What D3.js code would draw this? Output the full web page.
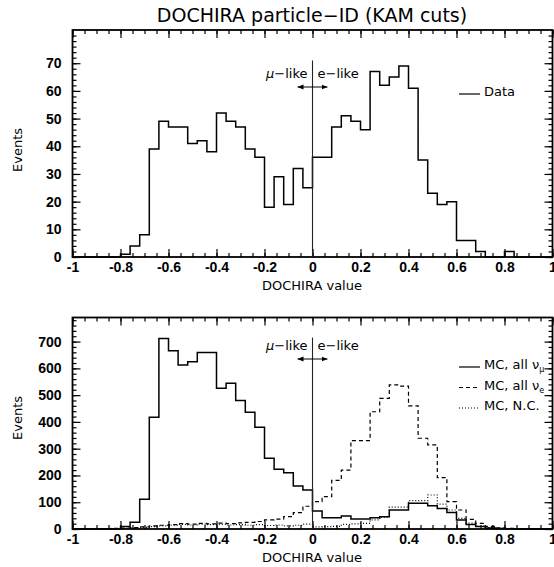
<!DOCTYPE html>
<html>
<head>
<meta charset="utf-8">
<script src="https://cdn.jsdelivr.net/npm/d3@7"></script>
<style>
  body { margin: 0; background: #fff; }
  svg { display: block; }
  text { fill: #000; }
</style>
</head>
<body>
<svg id="chart" width="554" height="567"></svg>
<script>
// bins of 0.04 from -1 to 1 (50 bins), value = lower edge
var binLow = d3.range(50).map(function (i) { return -1 + i * 0.04; });
var binWidth = 0.04;

// upper panel: data
var dataCounts = [0, 0, 0, 0, 0, 1, 4, 8, 39, 49,
  47, 47, 41, 42, 38, 52, 49, 47, 39, 36,
  18, 29, 19, 32, 25, 36, 36, 47, 51, 49,
  46, 67, 62, 65, 69, 61, 35, 23, 19, 20,
  6, 6, 2, 0, 0, 2, 0, 0, 0, 0];

// lower panel: MC
var mcNumu = [0, 0, 0, 0, 0, 9, 25, 111, 417, 712,
  666, 613, 625, 659, 659, 526, 544, 480, 436, 380,
  264, 223, 210, 161, 146, 67, 42, 42, 49, 37,
  37, 42, 46, 71, 71, 96, 96, 87, 77, 62,
  34, 17, 9, 4, 2, 1, 0, 0, 0, 0];
var mcNue = [0, 0, 0, 1, 2, 3, 5, 8, 12, 14,
  16, 20, 18, 21, 19, 22, 20, 23, 25, 28,
  34, 37, 46, 61, 85, 102, 121, 182, 220, 330,
  330, 438, 488, 538, 534, 460, 339, 314, 192, 102,
  71, 36, 21, 10, 4, 2, 0, 1, 0, 0];
var mcNC = [0, 0, 0, 0, 1, 2, 4, 6, 9, 12,
  14, 17, 15, 18, 16, 17, 15, 16, 14, 16,
  13, 15, 12, 14, 18, 8, 9, 10, 17, 19,
  21, 34, 44, 82, 82, 106, 106, 127, 93, 71,
  40, 22, 10, 5, 2, 1, 0, 0, 0, 0];

var xTicks = [-1, -0.8, -0.6, -0.4, -0.2, 0, 0.2, 0.4, 0.6, 0.8, 1];
var topTicks = [0, 10, 20, 30, 40, 50, 60, 70];
var botTicks = [0, 100, 200, 300, 400, 500, 600, 700];

var svg = d3.select("#chart");
var x = d3.scaleLinear().domain([-1, 1]).range([72.5, 552.5]);

// título
svg.append("text")
  .attr("x", 312).attr("y", 22)
  .attr("text-anchor", "middle")
  .style("font-family", "DejaVu Sans, sans-serif")
  .style("font-size", "19px")
  .text("DOCHIRA particle\u2212ID (KAM cuts)");

var defs = svg.append("defs");
["aL", "aR"].forEach(function (id, k) {
  defs.append("marker")
    .attr("id", id)
    .attr("viewBox", "0 0 10 10")
    .attr("refX", k === 0 ? 0 : 10).attr("refY", 5)
    .attr("markerWidth", 6).attr("markerHeight", 6)
    .attr("orient", "auto")
    .append("path")
    .attr("d", k === 0 ? "M10,1L0,5L10,9Z" : "M0,1L10,5L0,9Z");
});

function panel(yPixTop, yPixBot, yMax, ticks, minorStep, series, cfg) {
  var y = d3.scaleLinear().domain([0, yMax]).range([yPixBot, yPixTop]);
  var g = svg.append("g");

  // eixos (ticks para dentro)
  var minorX = d3.range(-1, 1.001, 0.05);
  var minorY = d3.range(0, yMax, minorStep);
  g.append("g").attr("transform", "translate(0," + yPixBot + ")")
    .call(d3.axisBottom(x).tickValues(minorX).tickSize(-4).tickFormat(""));
  g.append("g").attr("transform", "translate(0," + yPixBot + ")")
    .attr("class", "xl")
    .call(d3.axisBottom(x).tickValues(xTicks).tickSize(-8).tickPadding(5)
      .tickFormat(function (d) { return String(Math.round(d * 10) / 10); }));
  g.append("g").attr("transform", "translate(0," + yPixTop + ")")
    .call(d3.axisTop(x).tickValues(minorX).tickSize(-4).tickFormat(""));
  g.append("g").attr("transform", "translate(0," + yPixTop + ")")
    .call(d3.axisTop(x).tickValues(xTicks).tickSize(-8).tickFormat(""));
  g.append("g").attr("transform", "translate(" + x(-1) + ",0)")
    .call(d3.axisLeft(y).tickValues(minorY).tickSize(-4).tickFormat(""));
  g.append("g").attr("transform", "translate(" + x(-1) + ",0)")
    .attr("class", "yl")
    .call(d3.axisLeft(y).tickValues(ticks).tickSize(-8).tickPadding(11));
  g.append("g").attr("transform", "translate(" + x(1) + ",0)")
    .call(d3.axisRight(y).tickValues(minorY).tickSize(-4).tickFormat(""));
  g.append("g").attr("transform", "translate(" + x(1) + ",0)")
    .call(d3.axisRight(y).tickValues(ticks).tickSize(-8).tickFormat(""));
  g.selectAll(".domain").remove();
  g.selectAll(".tick line").attr("stroke", "#000").attr("stroke-width", 1.2);
  g.selectAll(".xl text, .yl text")
    .style("font-family", "Liberation Sans, Arial, sans-serif")
    .style("font-size", "14px").style("font-weight", "bold");

  // moldura
  g.append("rect")
    .attr("x", x(-1)).attr("y", yPixTop)
    .attr("width", x(1) - x(-1)).attr("height", yPixBot - yPixTop)
    .attr("fill", "none").attr("stroke", "#000").attr("stroke-width", 1.8);

  // histogramas em degraus
  series.forEach(function (s) {
    var pts = [[binLow[0], 0]];
    s.values.forEach(function (v, i) { pts.push([binLow[i], v]); });
    pts.push([binLow[binLow.length - 1] + binWidth, s.values[s.values.length - 1]]);
    pts.push([binLow[binLow.length - 1] + binWidth, 0]);
    var line = d3.line()
      .x(function (d) { return x(d[0]); })
      .y(function (d) { return y(d[1]); })
      .curve(d3.curveStepAfter);
    g.append("path")
      .attr("d", line(pts))
      .attr("fill", "none").attr("stroke", "#000")
      .attr("stroke-width", s.width)
      .attr("stroke-dasharray", s.dash);
  });

  // linha vertical em 0 e setas mu-like / e-like
  g.append("line")
    .attr("x1", x(0)).attr("x2", x(0))
    .attr("y1", y(0)).attr("y2", y(cfg.lineTop))
    .attr("stroke", "#222").attr("stroke-width", 1.1);
  g.append("line")
    .attr("x1", x(0) - 15).attr("x2", x(0) + 15)
    .attr("y1", cfg.arrowY).attr("y2", cfg.arrowY)
    .attr("stroke", "#000").attr("stroke-width", 1)
    .attr("marker-start", "url(#aL)").attr("marker-end", "url(#aR)");
  var lab = g.append("text")
    .attr("x", x(0) - 5).attr("y", cfg.labelY)
    .attr("text-anchor", "end")
    .style("font-family", "DejaVu Sans, sans-serif").style("font-size", "13px");
  lab.append("tspan").style("font-style", "italic").text("\u03bc");
  lab.append("tspan").text("\u2212like");
  g.append("text")
    .attr("x", x(0) + 5).attr("y", cfg.labelY)
    .style("font-family", "DejaVu Sans, sans-serif").style("font-size", "13px")
    .text("e\u2212like");

  // legenda
  cfg.legend.forEach(function (L, i) {
    var ly = cfg.legendY + i * 20.5;
    g.append("line")
      .attr("x1", 459).attr("x2", 480)
      .attr("y1", ly + 3).attr("y2", ly + 3)
      .attr("stroke", "#000").attr("stroke-width", 1.2)
      .attr("stroke-dasharray", L.dash);
    var t = g.append("text")
      .attr("x", 484).attr("y", ly + 5)
      .style("font-family", "DejaVu Sans, sans-serif").style("font-size", "13px")
      .text(L.text);
    if (L.sub) {
      t.append("tspan").text("\u03bd");
      t.append("tspan").attr("dy", 3).style("font-size", "8px").text(L.sub);
    }
  });

  // títulos dos eixos
  svg.append("text")
    .attr("x", 312).attr("y", yPixBot + 33)
    .attr("text-anchor", "middle")
    .style("font-family", "DejaVu Sans, sans-serif").style("font-size", "13px")
    .text("DOCHIRA value");
  svg.append("text")
    .attr("transform", "translate(22," + cfg.eventsY + ") rotate(-90)")
    .attr("text-anchor", "middle")
    .style("font-family", "DejaVu Sans, sans-serif").style("font-size", "13px")
    .text("Events");
}

panel(30, 257, 82, topTicks, 2,
  [{ values: dataCounts, width: 1.5, dash: null }],
  { lineTop: 71, arrowY: 87, labelY: 78, legendY: 91, eventsY: 150,
    legend: [{ text: "Data", dash: null }] });

panel(317.5, 529, 790, botTicks, 20,
  [{ values: mcNumu, width: 1.5, dash: null },
   { values: mcNue, width: 1.2, dash: "4,3" },
   { values: mcNC, width: 1.2, dash: "1,2" }],
  { lineTop: 715, arrowY: 359, labelY: 350, legendY: 364, eventsY: 418,
    legend: [{ text: "MC, all ", sub: "\u03bc", dash: null },
             { text: "MC, all ", sub: "e", dash: "4,3" },
             { text: "MC, N.C.", dash: "1,2" }] });
</script>
</body>
</html>
